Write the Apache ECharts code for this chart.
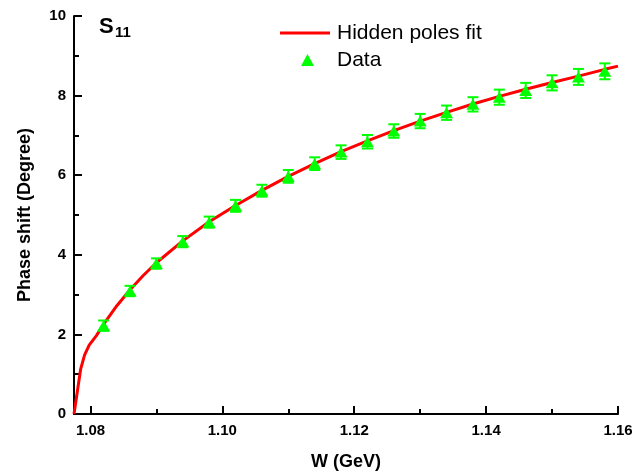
<!DOCTYPE html>
<html>
<head>
<meta charset="utf-8">
<script src="https://cdn.jsdelivr.net/npm/echarts@6/dist/echarts.min.js"></script>
<style>
html,body{margin:0;padding:0;background:#fff;}
#c{width:644px;height:476px;}
</style>
</head>
<body>
<div id="c"></div>
<script>
// ---- data ----
var dataW = [1.082,1.086,1.090,1.094,1.098,1.102,1.106,1.110,1.114,1.118,1.122,1.126,1.130,1.134,1.138,1.142,1.146,1.150,1.154,1.158];
var dataPhase = [2.22,3.09,3.78,4.33,4.82,5.23,5.61,5.97,6.29,6.58,6.84,7.11,7.36,7.57,7.78,7.96,8.13,8.32,8.47,8.61];
var dataErr = [0.13,0.13,0.13,0.14,0.14,0.15,0.15,0.16,0.16,0.17,0.17,0.17,0.18,0.18,0.18,0.19,0.19,0.19,0.20,0.20];
var fitW = [1.0775,1.0785,1.0791,1.0798,1.0809,1.082,1.084,1.086,1.088,1.090,1.094,1.098,1.102,1.106,1.110,1.114,1.118,1.122,1.126,1.130,1.134,1.138,1.142,1.146,1.150,1.154,1.158,1.160];
var fitPhase = [0,1.12,1.48,1.73,1.97,2.26,2.72,3.12,3.48,3.80,4.35,4.83,5.24,5.62,5.97,6.29,6.59,6.86,7.12,7.36,7.58,7.79,7.98,8.16,8.33,8.49,8.66,8.74];
var xMajorTicks = [1.08,1.10,1.12,1.14,1.16];
var xMinorTicks = [1.09,1.11,1.13,1.15];
var fitName = 'Hidden poles fit';
var dataName = 'Data';

var FONT = '"Liberation Sans", Arial, sans-serif';
var GREEN = '#00ff00';
var RED = '#ff0000';

var fitSeriesData = fitW.map(function(w,i){return [w, fitPhase[i]];});
var scatterData = dataW.map(function(w,i){return [w, dataPhase[i]];});
var errData = dataW.map(function(w,i){return [w, dataPhase[i]-dataErr[i], dataPhase[i]+dataErr[i]];});

var chart = echarts.init(document.getElementById('c'), null, {renderer:'canvas'});
var legendText = {fontFamily:FONT, fontSize:21, color:'#000', lineHeight:24};
var option = {
  animation:false,
  backgroundColor:'#fff',
  grid:{left:74, right:26, top:16, bottom:60, containLabel:false},
  legend:[{
    orient:'vertical', left:280, top:21, padding:0,
    itemWidth:50, itemHeight:3,
    textStyle:Object.assign({}, legendText, {padding:[0,0,0,2]}),
    data:[{name:fitName, icon:'rect'}]
  },{
    orient:'vertical', left:301, top:48, padding:0,
    itemWidth:13, itemHeight:12,
    textStyle:Object.assign({}, legendText, {padding:[0,0,0,18]}),
    data:[{name:dataName, icon:'triangle'}]
  }],
  xAxis:[{
    type:'value', min:1.0775, max:1.16,
    name:'W (GeV)', nameLocation:'middle', nameGap:39,
    nameTextStyle:{fontFamily:FONT, fontSize:18, fontWeight:'bold', color:'#000'},
    axisLine:{show:true, onZero:false, lineStyle:{color:'#000', width:2}},
    axisTick:{show:true, inside:true, length:8, lineStyle:{color:'#000', width:2}, customValues:xMajorTicks},
    axisLabel:{show:true, margin:9, fontFamily:FONT, fontSize:15, fontWeight:'bold', color:'#000', customValues:xMajorTicks,
      formatter:function(v){return v.toFixed(2);}},
    splitLine:{show:false}
  },{
    type:'value', min:1.0775, max:1.16, position:'bottom',
    axisLine:{show:false},
    axisTick:{show:true, inside:true, length:5, lineStyle:{color:'#000', width:2}, customValues:xMinorTicks},
    axisLabel:{show:false},
    splitLine:{show:false}
  }],
  yAxis:{
    type:'value', min:0, max:10, interval:2,
    name:'Phase shift (Degree)', nameLocation:'middle', nameGap:40,
    nameTextStyle:{fontFamily:FONT, fontSize:18, fontWeight:'bold', color:'#000'},
    axisLine:{show:true, onZero:false, lineStyle:{color:'#000', width:2}},
    axisTick:{show:true, inside:true, length:8, lineStyle:{color:'#000', width:2}},
    minorTick:{show:true, splitNumber:2, length:5, lineStyle:{color:'#000', width:2}},
    axisLabel:{margin:8, fontFamily:FONT, fontSize:15, fontWeight:'bold', color:'#000'},
    splitLine:{show:false}
  },
  graphic:[
    {type:'text', left:99, top:16, style:{text:'S', fontFamily:FONT, fontSize:22, fontWeight:'bold', fill:'#000'}},
    {type:'text', left:115, top:25, style:{text:'11', fontFamily:FONT, fontSize:15, fontWeight:'bold', fill:'#000'}}
  ],
  series:[
    {
      name:fitName, type:'line', data:fitSeriesData, symbol:'none', smooth:false,
      lineStyle:{color:RED, width:3}, itemStyle:{color:RED}, z:2
    },
    {
      name:'err', type:'custom', data:errData, z:3,
      renderItem:function(params, api){
        var x = api.value(0), lo = api.value(1), hi = api.value(2);
        var pLo = api.coord([x, lo]), pHi = api.coord([x, hi]);
        var hw = 5.5;
        var st = {stroke:GREEN, lineWidth:2};
        return {type:'group', children:[
          {type:'line', shape:{x1:pLo[0], y1:pLo[1], x2:pHi[0], y2:pHi[1]}, style:st},
          {type:'line', shape:{x1:pLo[0]-hw, y1:pLo[1], x2:pLo[0]+hw, y2:pLo[1]}, style:st},
          {type:'line', shape:{x1:pHi[0]-hw, y1:pHi[1], x2:pHi[0]+hw, y2:pHi[1]}, style:st}
        ]};
      }
    },
    {
      name:dataName, type:'scatter', data:scatterData, symbol:'triangle', symbolSize:[13,11],
      itemStyle:{color:GREEN, opacity:1}, z:4
    }
  ]
};
chart.setOption(option);
</script>
</body>
</html>
